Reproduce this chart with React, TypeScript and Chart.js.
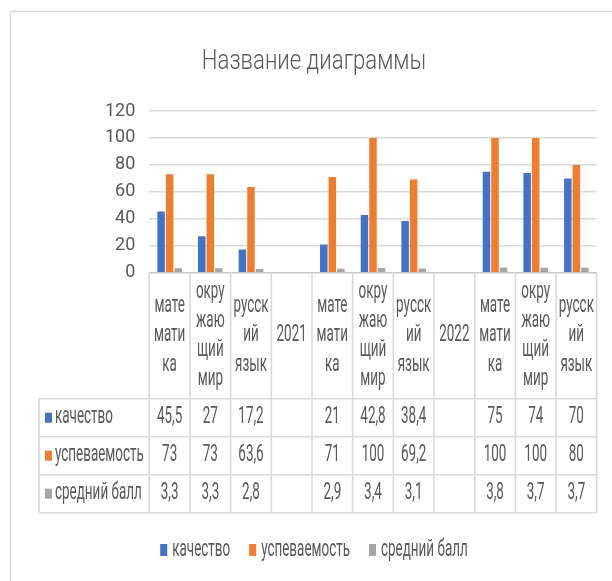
import React, { useEffect, useRef } from "react";
import { Chart, registerables } from "chart.js";

Chart.register(...registerables);

const title = "Название диаграммы";
const categories: string[][] = [
  ["мате", "мати", "ка"],
  ["окру", "жаю", "щий", "мир"],
  ["русск", "ий", "язык"],
  ["2021"],
  ["мате", "мати", "ка"],
  ["окру", "жаю", "щий", "мир"],
  ["русск", "ий", "язык"],
  ["2022"],
  ["мате", "мати", "ка"],
  ["окру", "жаю", "щий", "мир"],
  ["русск", "ий", "язык"],
];
const seriesNames = ["качество", "успеваемость", "средний балл"];
const kachestvo: (number | null)[] = [45.5, 27, 17.2, null, 21, 42.8, 38.4, null, 75, 74, 70];
const uspevaemost: (number | null)[] = [73, 73, 63.6, null, 71, 100, 69.2, null, 100, 100, 80];
const sredniyBall: (number | null)[] = [3.3, 3.3, 2.8, null, 2.9, 3.4, 3.1, null, 3.8, 3.7, 3.7];
const seriesColors = ["#4472C4", "#ED7D31", "#A5A5A5"];
const yMin = 0;
const yMax = 120;
const yStep = 20;

const TEXT = "#595959";
const LINE = "#d9d9d9";
const FONT = "Roboto, 'Open Sans', sans-serif";

function txt(
  ctx: CanvasRenderingContext2D,
  s: string,
  x: number,
  y: number,
  size: number,
  sx: number,
  align: CanvasTextAlign,
  weight = "400"
) {
  ctx.save();
  ctx.translate(x, y);
  ctx.scale(sx, 1);
  ctx.font = `${weight} ${size}px ${FONT}`;
  ctx.textAlign = align;
  ctx.textBaseline = "middle";
  ctx.fillStyle = TEXT;
  ctx.fillText(s, 0, 0);
  ctx.restore();
}

function measure(ctx: CanvasRenderingContext2D, s: string, size: number, sx: number) {
  ctx.save();
  ctx.font = `400 ${size}px ${FONT}`;
  const w = ctx.measureText(s).width * sx;
  ctx.restore();
  return w;
}

const fmt = (v: number | null) => (v === null ? "" : String(v).replace(".", ","));

const tablePlugin = {
  id: "excelTable",
  afterDraw(chart: any) {
    const ctx: CanvasRenderingContext2D = chart.ctx;
    const xs = chart.scales.x;
    const area = chart.chartArea;
    const n = categories.length;
    const colW = (xs.right - xs.left) / n;
    const top = area.bottom;
    const labelH = 126;
    const rowH = 38;
    const tableLeft = 39;
    const keyX = 45;
    const size = 23;
    const sx = 0.585;
    const series = [kachestvo, uspevaemost, sredniyBall];

    ctx.save();
    // outer chart border
    ctx.strokeStyle = LINE;
    ctx.lineWidth = 1.5;
    ctx.strokeRect(10.5, 11.5, 700, 700);

    // title
    txt(ctx, title, 314, 62, 27, 0.82, "center", "300");

    // table grid
    ctx.strokeStyle = LINE;
    ctx.lineWidth = 1.6;
    const bottom = top + labelH + rowH * 3;
    for (let i = 0; i <= n; i++) {
      const x = xs.getPixelForValue(i) - colW / 2;
      ctx.beginPath();
      ctx.moveTo(x, top);
      ctx.lineTo(x, bottom);
      ctx.stroke();
    }
    ctx.beginPath();
    ctx.moveTo(tableLeft, top + labelH);
    ctx.lineTo(tableLeft, bottom);
    ctx.stroke();
    for (let r = 0; r <= 3; r++) {
      const y = top + labelH + r * rowH;
      ctx.beginPath();
      ctx.moveTo(tableLeft, y);
      ctx.lineTo(xs.right, y);
      ctx.stroke();
    }

    // category labels
    const lineGap = 29.3;
    categories.forEach((lines, i) => {
      const cx = xs.getPixelForValue(i);
      const cy = top + labelH / 2;
      lines.forEach((ln, k) => {
        const y = cy + (k - (lines.length - 1) / 2) * lineGap;
        txt(ctx, ln, cx, y, size, sx, "center");
      });
    });

    // rows
    series.forEach((vals, r) => {
      const cy = top + labelH + r * rowH + rowH / 2;
      ctx.fillStyle = seriesColors[r];
      ctx.fillRect(keyX, cy - 5, 7, 10);
      txt(ctx, seriesNames[r], keyX + 10, cy, size, sx, "left");
      vals.forEach((v, i) => {
        txt(ctx, fmt(v), xs.getPixelForValue(i), cy, size, sx, "center");
      });
    });

    // legend
    const ly = 550;
    const sq = 7;
    const gap = 5;
    const spacing = 19;
    const widths = seriesNames.map((s) => measure(ctx, s, size, sx));
    const total = widths.reduce((a, w) => a + sq + gap + w, 0) + spacing * (seriesNames.length - 1);
    let lx = 314 - total / 2;
    seriesNames.forEach((s, i) => {
      ctx.fillStyle = seriesColors[i];
      ctx.fillRect(lx, ly - 6, sq, 12);
      txt(ctx, s, lx + sq + gap, ly, size, sx, "left");
      lx += sq + gap + widths[i] + spacing;
    });
    ctx.restore();
  },
};

export default function App() {
  const ref = useRef<HTMLCanvasElement | null>(null);
  useEffect(() => {
    if (!ref.current) return;
    const chart = new Chart(ref.current, {
      type: "bar",
      data: {
        labels: categories,
        datasets: [
          { label: seriesNames[0], data: kachestvo, backgroundColor: seriesColors[0] },
          { label: seriesNames[1], data: uspevaemost, backgroundColor: seriesColors[1] },
          { label: seriesNames[2], data: sredniyBall, backgroundColor: seriesColors[2] },
        ],
      },
      options: {
        animation: false,
        responsive: false,
        devicePixelRatio: 1,
        layout: { padding: { top: 111, right: 15.3, bottom: 308.3, left: 0 } },
        datasets: { bar: { categoryPercentage: 0.63, barPercentage: 0.88 } },
        plugins: {
          legend: { display: false },
          title: { display: false },
          tooltip: { enabled: false },
        },
        scales: {
          x: { display: false },
          y: {
            min: yMin,
            max: yMax,
            ticks: {
              stepSize: yStep,
              color: TEXT,
              padding: 14,
              font: { family: FONT, size: 18 },
            },
            border: { display: false },
            grid: {
              drawTicks: false,
              lineWidth: 1.6,
              color: (c: any) => (c.tick && c.tick.value === 0 ? "#c9c9c9" : LINE),
            },
            afterFit: (scale: any) => {
              scale.width = 149.3;
            },
          },
        },
      } as any,
      plugins: [tablePlugin],
    });
    return () => chart.destroy();
  }, []);
  return (
    <div style={{ position: "absolute", left: 0, top: 0, width: 612, height: 581, background: "#fff" }}>
      <canvas ref={ref} width={612} height={581} />
    </div>
  );
}
